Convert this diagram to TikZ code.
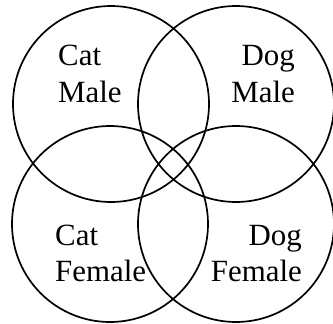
\documentclass[tikz,border=0pt]{standalone}
\usepackage{fontspec}
\setmainfont{Liberation Serif}
\begin{document}
\begin{tikzpicture}[x=1bp,y=-1bp,
  venn/.style={draw=black, line width=1.7bp},
  lbl/.style={inner sep=0pt, font=\fontsize{31}{37}\selectfont}]
\useasboundingbox (0,0) rectangle (333,324);
\node[venn, circle, minimum size=196bp, inner sep=0pt] (cm) at (111,104) {};
\node[venn, circle, minimum size=196bp, inner sep=0pt] (dm) at (236,104) {};
\node[venn, circle, minimum size=196bp, inner sep=0pt] (cf) at (110,224) {};
\node[venn, circle, minimum size=196bp, inner sep=0pt] (df) at (236,224) {};
\node[lbl, anchor=base west] (cm1) at (58,65) {Cat};
\node[lbl, anchor=base west] (cm2) at (58,102) {Male};
\node[lbl, anchor=base east] (dm1) at (295,65) {Dog};
\node[lbl, anchor=base east] (dm2) at (295,102) {Male};
\node[lbl, anchor=base west] (cf1) at (55,245) {Cat};
\node[lbl, anchor=base west] (cf2) at (55,281) {Female};
\node[lbl, anchor=base east] (df1) at (302,245) {Dog};
\node[lbl, anchor=base east] (df2) at (302,281) {Female};
\end{tikzpicture}
\end{document}
